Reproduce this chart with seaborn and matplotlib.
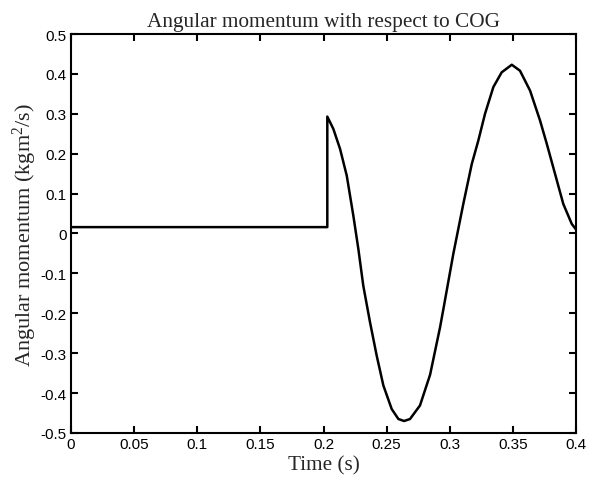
import matplotlib
matplotlib.use('Agg')
import matplotlib.pyplot as plt
import seaborn as sns
import pandas as pd

# dados
tempo = [0.0, 0.2030, 0.2030, 0.2078, 0.2131, 0.2184, 0.2236, 0.2276,
         0.2315, 0.2368, 0.2421, 0.2474, 0.2540, 0.2593, 0.2638, 0.2685,
         0.2764, 0.2844, 0.2923, 0.2949, 0.3028, 0.3107, 0.3174, 0.3226,
         0.3279, 0.3345, 0.3411, 0.3491, 0.3556, 0.3636, 0.3715, 0.3768,
         0.3834, 0.3899, 0.3966, 0.4000]
momento = [0.016, 0.016, 0.293, 0.262, 0.212, 0.145, 0.045, -0.039,
           -0.131, -0.222, -0.306, -0.381, -0.440, -0.465, -0.470, -0.465,
           -0.431, -0.354, -0.235, -0.190, -0.051, 0.074, 0.174, 0.233,
           0.300, 0.367, 0.404, 0.423, 0.408, 0.358, 0.283, 0.225,
           0.149, 0.074, 0.024, 0.010]

xticks = [0, 0.05, 0.1, 0.15, 0.2, 0.25, 0.3, 0.35, 0.4]
xticklabels = ['0', '0.05', '0.1', '0.15', '0.2', '0.25', '0.3', '0.35', '0.4']
yticks = [-0.5, -0.4, -0.3, -0.2, -0.1, 0, 0.1, 0.2, 0.3, 0.4, 0.5]
yticklabels = ['-0.5', '-0.4', '-0.3', '-0.2', '-0.1', '0', '0.1', '0.2',
               '0.3', '0.4', '0.5']

sns.set_style('ticks')
plt.rcParams['font.family'] = ['Liberation Sans', 'DejaVu Sans']
plt.rcParams['axes.unicode_minus'] = False
plt.rcParams['mathtext.default'] = 'regular'

df = pd.DataFrame({'t': tempo, 'L': momento})

fig = plt.figure(figsize=(5.98, 4.85), dpi=100)
ax = fig.add_axes([0.1187, 0.1052, 0.8446, 0.8226])
sns.lineplot(data=df, x='t', y='L', sort=False, estimator=None,
             color='black', linewidth=1.8, ax=ax)

ax.set_xlim(0, 0.4)
ax.set_ylim(-0.5, 0.5)
ax.set_xticks(xticks)
ax.set_xticklabels(xticklabels)
ax.set_yticks(yticks)
ax.set_yticklabels(yticklabels)
ax.tick_params(direction='in', length=5, width=1.5, labelsize=11,
               top=True, right=True, colors='black', pad=3)
for s in ax.spines.values():
    s.set_visible(True)
    s.set_linewidth(1.5)
    s.set_color('black')

serif = ['Liberation Serif', 'DejaVu Serif']
ax.set_xlabel('Time (s)', family=serif, fontsize=15.3, labelpad=3)
ax.set_ylabel('Angular momentum (kgm$^{2}$/s)', family=serif, fontsize=16,
              labelpad=1)
ax.set_title('Angular momentum with respect to COG', family=serif,
             fontsize=15.3, pad=6)

fig.savefig('out.png', dpi=100)
